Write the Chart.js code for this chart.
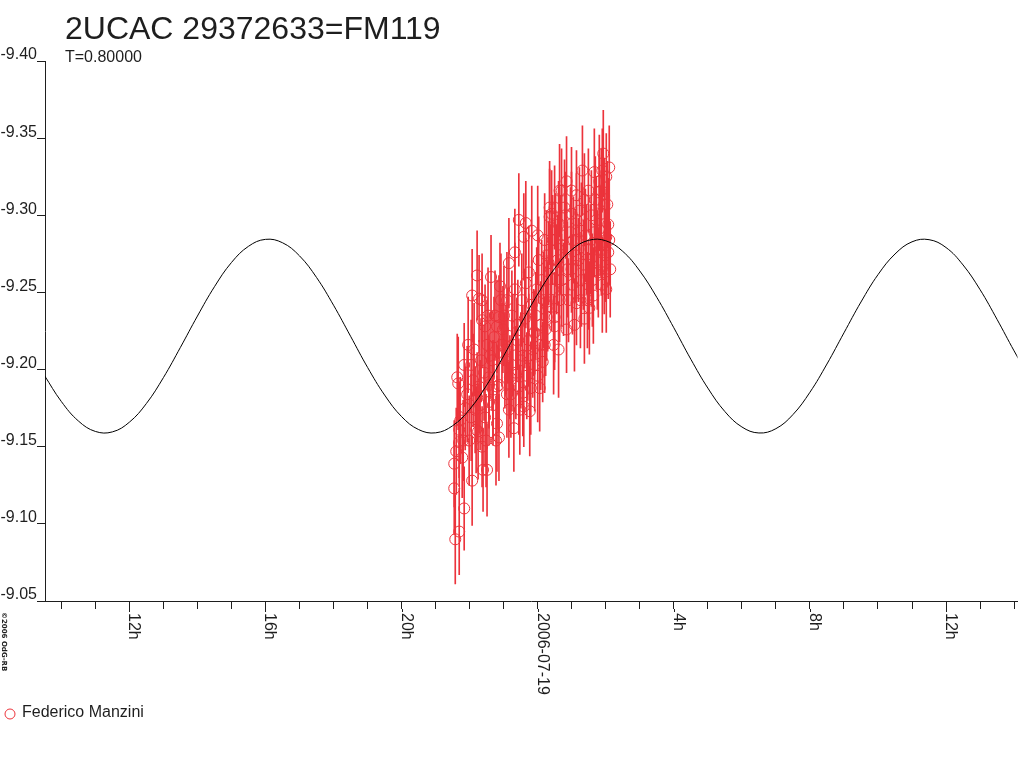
<!DOCTYPE html>
<html>
<head>
<meta charset="utf-8">
<title>2UCAC 29372633=FM119</title>
<script src="https://cdn.jsdelivr.net/npm/chart.js@4.4.0/dist/chart.umd.min.js"></script>
<style>
  html, body { margin: 0; padding: 0; background: #fff; }
  #wrap { width: 1024px; height: 768px; }
</style>
</head>
<body>
<div id="wrap"><canvas id="lc" width="1024" height="768"></canvas></div>
<script>
// hours relative to 2006-07-19 00:00
const xHourMarks = [-14, -13, -12, -11, -10, -9, -8, -7, -6, -5, -4, -3, -2, -1, 0,
  1, 2, 3, 4, 5, 6, 7, 8, 9, 10, 11, 12, 13, 14];
const xTickHours = [-12, -8, -4, 0, 4, 8, 12];
const xTickLabels = ['12h', '16h', '20h', '2006-07-19', '4h', '8h', '12h'];

// fitted light curve, every half hour
const modelHours = [-14.5, -14, -13.5, -13, -12.5, -12, -11.5, -11, -10.5, -10,
  -9.5, -9, -8.5, -8, -7.5, -7, -6.5, -6, -5.5, -5,
  -4.5, -4, -3.5, -3, -2.5, -2, -1.5, -1, -0.5, 0,
  0.5, 1, 1.5, 2, 2.5, 3, 3.5, 4, 4.5, 5,
  5.5, 6, 6.5, 7, 7.5, 8, 8.5, 9, 9.5, 10,
  10.5, 11, 11.5, 12, 12.5, 13, 13.5, 14, 14.5];
const modelMag = [-9.1963, -9.1793, -9.1667, -9.1599, -9.1596, -9.1659, -9.1780, -9.1948, -9.2144, -9.2347,
  -9.2537, -9.2694, -9.2799, -9.2844, -9.2822, -9.2737, -9.2597, -9.2417, -9.2216, -9.2014,
  -9.1835, -9.1695, -9.1611, -9.1590, -9.1636, -9.1742, -9.1899, -9.2089, -9.2293, -9.2489,
  -9.2656, -9.2777, -9.2838, -9.2835, -9.2766, -9.2639, -9.2468, -9.2271, -9.2067, -9.1880,
  -9.1728, -9.1628, -9.1589, -9.1617, -9.1708, -9.1853, -9.2036, -9.2238, -9.2438, -9.2615,
  -9.2749, -9.2828, -9.2842, -9.2791, -9.2678, -9.2518, -9.2325, -9.2121, -9.1928];

// observations (Federico Manzini)
const obsHours = [
  -2.423, -2.307, -2.161, -2.453, -2.453, -2.219, -2.307, -2.307, -2.131, -2.365,
  -2.336, -2.161, -1.956, -2.277, -2.073, -2.190, -2.394, -1.927, -1.606, -1.489,
  -1.956, -1.752, -1.635, -1.781, -1.723, -1.431, -1.431, -1.547, -1.781, -1.372,
  -1.927, -1.723, -1.635, -1.547, -1.255, -1.285, -1.197, -1.431, -1.197, -1.197,
  -1.139, -1.869, -1.664, -1.489, -1.343, -1.839, -1.314, -2.015, -1.139, -1.109,
  -1.139, -0.964, -0.847, -0.672, -0.555, -0.350, -0.175, 0.000, -0.409, -0.263,
  -0.350, -0.088, -0.263, -0.117, -0.555, -0.409, -0.234, -0.701, -0.759, -0.818,
  -0.905, -1.022, -0.759, -0.613, -0.467, -0.905, -0.438, -0.175, -0.029, -0.088,
  -0.321, -0.672, -1.051, -0.526, -0.847, 0.058, 0.146, 0.263, 0.292, 0.263,
  0.263, 0.321, 0.350, 0.409, 0.350, 0.496, 0.496, 0.496, 0.613, 0.117,
  0.204, 0.088, 0.438, 0.409, 0.204, 0.555, 0.029, 0.642, 0.701, 0.847,
  0.993, 0.788, 0.993, 1.139, 1.314, 1.664, 1.810, 1.869, 1.810, 1.869,
  1.577, 2.073, 2.015, 2.102, 1.927, 1.664, 2.015, 1.869, 2.073, 1.197,
  0.701, 2.015, 1.489, 1.635, 1.139, 1.518, 0.847, 1.781, 1.956, 0.847,
  1.051, 1.285, 1.431, 1.577, 1.285, 0.993, 1.723, 0.701, 0.905, 1.372,
  1.139, 1.489, 1.956, 1.723, 2.131, 1.372, 0.642, 1.080, 0.613,
  -1.080, -0.993, -0.934, -0.876, -0.788, -0.730, -0.642, -0.584, -0.496, -0.438,
  -0.380, -0.292, -0.204, -0.146, -0.058, 0.000, 0.088, -2.044, -1.898, -1.810,
  -1.693, -1.577, -1.518, -1.401, -1.314, -1.226, -1.635, -1.460, 0.584, 0.672,
  0.759, 0.818, 0.876, 0.964, 1.022, 1.109, 1.226, 1.255, 1.343, 1.401,
  1.460, 1.547, 1.606, 1.693, 1.752, 1.839, 1.898, 1.985, 2.044, 2.102,
  1.898, 0.175, 0.234, 0.380, 0.467, 0.526];
const obsMag = [
  -9.090, -9.095, -9.110, -9.123, -9.139, -9.143, -9.153, -9.161, -9.175, -9.195,
  -9.191, -9.203, -9.203, -9.167, -9.184, -9.154, -9.147, -9.128, -9.135, -9.135,
  -9.169, -9.160, -9.150, -9.182, -9.189, -9.195, -9.179, -9.169, -9.261, -9.260,
  -9.248, -9.246, -9.232, -9.228, -9.235, -9.221, -9.228, -9.190, -9.189, -9.165,
  -9.156, -9.213, -9.206, -9.216, -9.206, -9.174, -9.177, -9.154, -9.190, -9.254,
  -9.234, -9.206, -9.269, -9.276, -9.297, -9.295, -9.290, -9.287, -9.286, -9.263,
  -9.256, -9.224, -9.219, -9.224, -9.189, -9.176, -9.173, -9.162, -9.203, -9.195,
  -9.245, -9.226, -9.235, -9.219, -9.245, -9.184, -9.209, -9.242, -9.252, -9.203,
  -9.196, -9.252, -9.216, -9.174, -9.174, -9.188, -9.205, -9.244, -9.241, -9.234,
  -9.274, -9.269, -9.299, -9.301, -9.305, -9.305, -9.234, -9.228, -9.213, -9.258,
  -9.284, -9.229, -9.284, -9.252, -9.216, -9.265, -9.271, -9.316, -9.316, -9.322,
  -9.316, -9.305, -9.301, -9.297, -9.329, -9.328, -9.322, -9.316, -9.308, -9.301,
  -9.300, -9.294, -9.325, -9.331, -9.340, -9.289, -9.286, -9.276, -9.276, -9.271,
  -9.258, -9.252, -9.255, -9.248, -9.243, -9.240, -9.226, -9.263, -9.263, -9.278,
  -9.284, -9.290, -9.278, -9.268, -9.258, -9.265, -9.281, -9.287, -9.245, -9.310,
  -9.313, -9.316, -9.307, -9.297, -9.265, -9.233, -9.245, -9.229, -9.294,
  -9.245, -9.235, -9.213, -9.222, -9.184, -9.216, -9.198, -9.229, -9.206, -9.185,
  -9.233, -9.209, -9.188, -9.213, -9.235, -9.196, -9.216, -9.216, -9.193, -9.161,
  -9.177, -9.198, -9.154, -9.209, -9.187, -9.154, -9.245, -9.235, -9.271, -9.281,
  -9.252, -9.300, -9.265, -9.289, -9.255, -9.274, -9.303, -9.245, -9.268, -9.287,
  -9.245, -9.278, -9.258, -9.310, -9.271, -9.290, -9.255, -9.274, -9.307, -9.284,
  -9.329, -9.245, -9.226, -9.265, -9.216, -9.284];
const obsErr = [
  0.029, 0.028, 0.027, 0.030, 0.028, 0.026, 0.029, 0.031, 0.027, 0.028,
  0.030, 0.027, 0.029, 0.028, 0.031, 0.026, 0.028, 0.029, 0.027, 0.030,
  0.028, 0.031, 0.026, 0.029, 0.030, 0.027, 0.028, 0.032, 0.029, 0.027,
  0.030, 0.028, 0.031, 0.027, 0.029, 0.026, 0.030, 0.028, 0.027, 0.031,
  0.028, 0.030, 0.027, 0.029, 0.032, 0.028, 0.026, 0.029, 0.030, 0.028,
  0.027, 0.031, 0.029, 0.028, 0.030, 0.027, 0.029, 0.032, 0.028, 0.030,
  0.029, 0.027, 0.030, 0.028, 0.031, 0.026, 0.029, 0.028, 0.030, 0.027,
  0.031, 0.028, 0.029, 0.027, 0.030, 0.028, 0.032, 0.029, 0.027, 0.030,
  0.028, 0.030, 0.027, 0.029, 0.031, 0.028, 0.026, 0.030, 0.029, 0.028,
  0.029, 0.027, 0.031, 0.028, 0.030, 0.027, 0.029, 0.028, 0.031, 0.026,
  0.030, 0.028, 0.029, 0.027, 0.031, 0.029, 0.028, 0.030, 0.027, 0.029,
  0.028, 0.031, 0.027, 0.030, 0.029, 0.028, 0.030, 0.027, 0.031, 0.028,
  0.029, 0.030, 0.028, 0.027, 0.028, 0.029, 0.031, 0.028, 0.030, 0.027,
  0.030, 0.028, 0.029, 0.031, 0.027, 0.030, 0.028, 0.029, 0.027, 0.030,
  0.028, 0.031, 0.029, 0.027, 0.030, 0.028, 0.029, 0.031, 0.027, 0.030,
  0.029, 0.027, 0.030, 0.028, 0.031, 0.029, 0.027, 0.030, 0.028,
  0.030, 0.032, 0.029, 0.031, 0.028, 0.033, 0.030, 0.029, 0.031, 0.028,
  0.032, 0.029, 0.030, 0.031, 0.028, 0.030, 0.029, 0.031, 0.030, 0.028,
  0.029, 0.031, 0.030, 0.028, 0.032, 0.029, 0.030, 0.031, 0.029, 0.032,
  0.030, 0.028, 0.031, 0.029, 0.032, 0.030, 0.028, 0.031, 0.029, 0.030,
  0.031, 0.029, 0.030, 0.028, 0.032, 0.029, 0.031, 0.030, 0.028, 0.029,
  0.027, 0.031, 0.030, 0.029, 0.032, 0.030];

const RED = '#ec333b';
const INK = '#1e1e1e';
const FONT = '"Liberation Sans", Arial, sans-serif';

Chart.defaults.font.family = FONT;
Chart.defaults.color = INK;

// title, rotated hour labels, legend and credit line
const decorations = {
  id: 'decorations',
  afterDraw(chart) {
    const ctx = chart.ctx;
    const xs = chart.scales.x;
    ctx.save();
    ctx.fillStyle = INK;
    ctx.strokeStyle = INK;
    ctx.lineWidth = 1;

    ctx.textAlign = 'left';
    ctx.textBaseline = 'middle';
    ctx.font = '32px ' + FONT;
    ctx.fillText('2UCAC 29372633=FM119', 65, 30);
    ctx.font = '16px ' + FONT;
    ctx.fillText('T=0.80000', 65, 58);

    // labelled hours get a slightly longer mark
    xs.ticks.forEach(t => {
      const i = xTickHours.indexOf(t.value);
      if (i < 0) return;
      const px = Math.round(xs.getPixelForValue(t.value)) + 0.5;
      ctx.beginPath();
      ctx.moveTo(px, xs.top + 8);
      ctx.lineTo(px, xs.top + 11);
      ctx.stroke();
      ctx.save();
      ctx.translate(px - 0.5, xs.top + 12);
      ctx.rotate(Math.PI / 2);
      ctx.textBaseline = 'alphabetic';
      ctx.font = '16px ' + FONT;
      ctx.fillText(xTickLabels[i], 0, 0);
      ctx.restore();
    });

    // credit, written downwards
    ctx.save();
    ctx.translate(2, 612);
    ctx.rotate(Math.PI / 2);
    ctx.textBaseline = 'alphabetic';
    ctx.font = 'bold 7px "DejaVu Sans", sans-serif';
    ctx.fillText('\u00a92006 OdG-RB', 0, 0);
    ctx.restore();

    // legend
    const ds = chart.data.datasets[1];
    ctx.strokeStyle = ds.pointBorderColor;
    ctx.beginPath();
    ctx.arc(10, 714, 5, 0, Math.PI * 2);
    ctx.stroke();
    ctx.font = '16px ' + FONT;
    ctx.textBaseline = 'middle';
    ctx.fillText(ds.label, 22, 713);
    ctx.restore();
  }
};

const modelPoints = modelHours.map((h, i) => ({ x: h, y: modelMag[i] }));
const obsPoints = obsHours.map((h, i) => ({ x: h, y: obsMag[i] }));
const errBars = obsHours.map((h, i) => ({ x: h, y: [obsMag[i] - obsErr[i], obsMag[i] + obsErr[i]] }));

new Chart(document.getElementById('lc'), {
  type: 'scatter',
  data: {
    datasets: [
      {
        type: 'line',
        label: 'model',
        data: modelPoints,
        borderColor: '#000',
        borderWidth: 1,
        pointRadius: 0,
        tension: 0.4,
        fill: false
      },
      {
        type: 'scatter',
        label: 'Federico Manzini',
        data: obsPoints,
        pointStyle: 'circle',
        pointRadius: 5.5,
        pointBorderWidth: 1,
        pointBorderColor: RED,
        pointBackgroundColor: 'rgba(0,0,0,0)'
      },
      {
        type: 'bar',
        label: 'error',
        data: errBars,
        backgroundColor: RED,
        borderWidth: 0,
        barThickness: 1,
        grouped: false
      }
    ]
  },
  options: {
    responsive: false,
    devicePixelRatio: 1,
    animation: false,
    events: [],
    layout: { padding: { top: 61, left: 0, right: 0, bottom: 0 } },
    plugins: {
      legend: { display: false },
      title: { display: false },
      tooltip: { enabled: false }
    },
    scales: {
      x: {
        type: 'linear',
        min: -14.48,
        max: 14.1,
        offset: false,
        afterBuildTicks: s => { s.ticks = xHourMarks.map(v => ({ value: v })); },
        afterFit: s => { s.height = 167; },
        ticks: { display: false },
        grid: { display: true, offset: false, drawOnChartArea: false, drawTicks: true, tickLength: 8, color: INK },
        border: { display: true, color: INK, width: 1 }
      },
      y: {
        type: 'linear',
        reverse: true,
        min: -9.40,
        max: -9.05,
        beginAtZero: false,
        afterFit: s => { s.width = 45; },
        ticks: {
          stepSize: 0.05,
          padding: 0,
          labelOffset: -6,
          color: INK,
          font: { size: 16 },
          callback: v => v.toFixed(2)
        },
        grid: { drawOnChartArea: false, drawTicks: true, tickLength: 8, color: INK },
        border: { display: true, color: INK, width: 1 }
      }
    }
  },
  plugins: [decorations]
});
</script>
</body>
</html>
